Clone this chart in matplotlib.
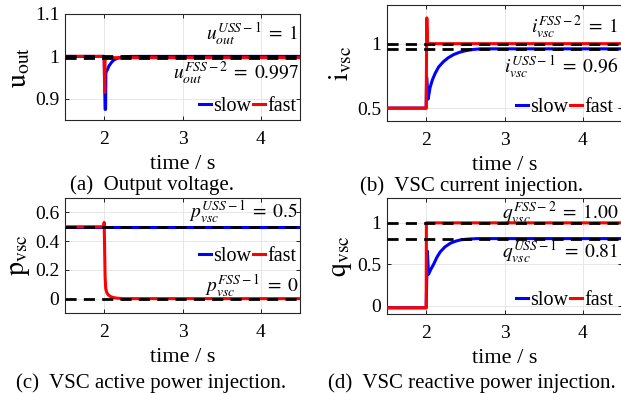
import matplotlib
matplotlib.use("Agg")
import matplotlib.pyplot as plt

plt.rcParams["font.family"] = ["Liberation Serif", "DejaVu Serif"]
plt.rcParams["mathtext.fontset"] = "stix"

# (a) output voltage
t_u_slow = [1.5, 2.0, 2.012, 2.018, 2.022, 2.04, 2.06, 2.09, 2.12, 2.16, 2.2, 2.26, 2.35, 4.5]
u_slow = [1.0, 1.0, 0.875, 0.875, 0.962, 0.968, 0.977, 0.985, 0.991, 0.995, 0.997, 0.999, 1.0, 1.0]
t_u_fast = [1.5, 2.0, 2.006, 2.012, 4.5]
u_fast = [1.0, 1.0, 0.915, 0.997, 0.997]
u_ref = [1.0, 0.997]

# (b) VSC current
t_i_slow = [1.5, 2.0, 2.006, 2.025, 2.05, 2.08, 2.115, 2.16, 2.22, 2.28, 2.35, 2.42, 2.5, 2.6, 2.7, 4.5]
i_slow = [0.5, 0.5, 0.74, 0.57, 0.66, 0.72, 0.77, 0.82, 0.86, 0.89, 0.915, 0.932, 0.945, 0.955, 0.96, 0.96]
t_i_fast = [1.5, 2.0, 2.008, 2.018, 2.03, 4.5]
i_fast = [0.5, 0.5, 1.2, 1.0, 1.0, 1.0]
i_ref = [1.0, 0.96]

# (c) VSC active power
t_p_slow = [1.5, 4.5]
p_slow = [0.5, 0.5]
t_p_fast = [1.5, 1.995, 2.0, 2.012, 2.02, 2.035, 2.055, 2.08, 2.12, 2.17, 2.25, 4.5]
p_fast = [0.5, 0.5, 0.53, 0.15, 0.07, 0.04, 0.025, 0.015, 0.007, 0.003, 0.0, 0.0]
p_ref = [0.5, 0.0]

# (d) VSC reactive power
t_q_slow = [1.5, 2.0, 2.015, 2.03, 2.06, 2.095, 2.14, 2.18, 2.24, 2.31, 2.38, 2.44, 2.52, 2.65, 4.5]
q_slow = [-0.025, -0.025, 0.66, 0.38, 0.44, 0.5, 0.59, 0.65, 0.71, 0.755, 0.78, 0.795, 0.803, 0.81, 0.81]
t_q_fast = [1.5, 2.0, 2.003, 4.5]
q_fast = [-0.025, -0.025, 1.0, 1.0]
q_ref = [1.0, 0.81]

W, H = 621, 393


def panel(rect_px, ts, ys, ts_f, ys_f, refs, ylim, yticks, yticklabels, ylabel,
          notes, caption, cap_xy, leg_loc, leg_anchor):
    l, t, r, b = rect_px
    ax = fig.add_axes([l / W, 1 - b / H, (r - l) / W, (b - t) / H])
    ax.plot(ts, ys, color="#0000ff", lw=2.2, label="slow", zorder=3)
    ax.plot(ts_f, ys_f, color="#ff0000", lw=2.2, label="fast", zorder=4)
    for v in refs:
        ln = ax.axhline(v, color="black", lw=2.0, zorder=5)
        ln.set_dashes((4, 2.6))
    ax.set_xlim(1.5, 4.5)
    ax.set_ylim(*ylim)
    ax.set_xticks([2, 3, 4])
    ax.set_yticks(yticks)
    ax.set_yticklabels(yticklabels)
    ax.tick_params(direction="in", top=True, right=True, length=3, width=0.6,
                   labelsize=14, pad=4)
    ax.tick_params(axis="x", pad=8)
    ax.grid(color="#e3e3e3", lw=0.6)
    for s in ax.spines.values():
        s.set_color("#262626")
        s.set_linewidth(0.8)
    ax.set_ylabel(ylabel, fontsize=20)
    ax.yaxis.set_label_coords(-0.14, 0.5)
    ax.set_xlabel("time / s", fontsize=16, labelpad=5)
    for x, y, s in notes:
        ax.text(x, y, s, ha="right", va="center", fontsize=14)
    ax.legend(loc=leg_loc, bbox_to_anchor=leg_anchor, ncol=2, frameon=False,
              fontsize=14.5, handlelength=0.6, handletextpad=0.1,
              columnspacing=0.1, borderaxespad=0.1, borderpad=0.1)
    fig.text(cap_xy[0] / W, 1 - cap_xy[1] / H, caption, ha="center", va="center",
             fontsize=15)
    return ax


fig = plt.figure(figsize=(W / 100, H / 100), dpi=100)

panel((65, 14, 300, 120), t_u_slow, u_slow, t_u_fast, u_fast, u_ref,
      (0.85, 1.1), [0.9, 1.0, 1.1], ["0.9", "1", "1.1"], r"$\mathrm{u}_{\mathrm{out}}$",
      [(4.48, 1.052, r"$u_{out}^{USS-1}\;=\;1$"), (4.48, 0.96, r"$u_{out}^{FSS-2}\;=\;0.997$")],
      "(a)  Output voltage.", (152, 185), "lower right", (1.0, 0.0))

panel((387, 5, 622, 121), t_i_slow, i_slow, t_i_fast, i_fast, i_ref,
      (0.4, 1.3), [0.5, 1.0], ["0.5", "1"], r"$\mathrm{i}_{\mathrm{vsc}}$",
      [(4.45, 1.127, r"$i_{vsc}^{FSS-2}\;=\;1$"), (4.45, 0.817, r"$i_{vsc}^{USS-1}\;=\;0.96$")],
      "(b)  VSC current injection.", (472, 186), "lower right", (0.98, 0.0))

panel((65, 198, 300, 313), t_p_slow, p_slow, t_p_fast, p_fast, p_ref,
      (-0.1, 0.7), [0, 0.2, 0.4, 0.6], ["0", "0.2", "0.4", "0.6"], r"$\mathrm{p}_{\mathrm{vsc}}$",
      [(4.48, 0.6, r"$p_{vsc}^{USS-1}\;=\;0.5$"), (4.48, 0.084, r"$p_{vsc}^{FSS-1}\;=\;0$")],
      "(c)  VSC active power injection.", (151, 383), "center right", (1.0, 0.49))

panel((387, 198, 622, 314), t_q_slow, q_slow, t_q_fast, q_fast, q_ref,
      (-0.1, 1.3), [0, 0.5, 1.0], ["0", "0.5", "1"], r"$\mathrm{q}_{\mathrm{vsc}}$",
      [(4.45, 1.12, r"$q_{vsc}^{FSS-2}\;=\;1.00$"), (4.45, 0.65, r"$q_{vsc}^{USS-1}\;=\;0.81$")],
      "(d)  VSC reactive power injection.", (472, 383), "lower right", (0.98, 0.0))

fig.savefig("out.png", dpi=100)
